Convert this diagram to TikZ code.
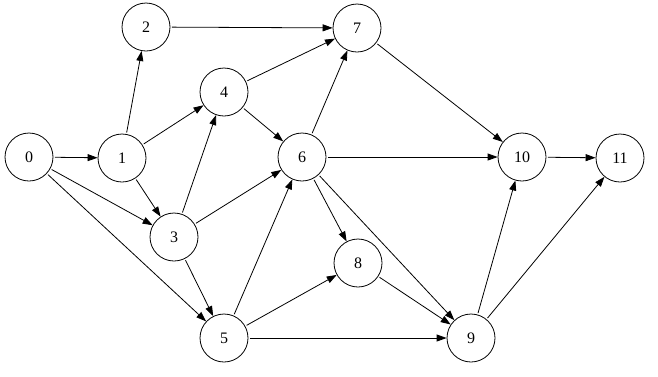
\documentclass[tikz,border=0pt]{standalone}
\usepackage{fontspec}
\setmainfont{Liberation Serif}
\usetikzlibrary{arrows.meta}
\begin{document}
\begin{tikzpicture}[x=1pt,y=-1pt,
  vtx/.style={circle,draw,line width=0.8pt,minimum size=48pt,inner sep=0pt,font=\fontsize{16}{18}\selectfont},
  arr/.style={line width=0.8pt,-{Triangle[length=10pt,width=7pt]},shorten <=1.5pt}]
\useasboundingbox (0,0) rectangle (658,376);
\node[vtx] (n0) at (29,157) {0};
\node[vtx] (n1) at (122,158) {1};
\node[vtx] (n2) at (146,27) {2};
\node[vtx] (n3) at (174,237) {3};
\node[vtx] (n4) at (224,92) {4};
\node[vtx] (n5) at (224,338) {5};
\node[vtx] (n6) at (302,157) {6};
\node[vtx] (n7) at (357,28) {7};
\node[vtx] (n8) at (358,263) {8};
\node[vtx] (n9) at (471,338) {9};
\node[vtx] (n10) at (522,157) {10};
\node[vtx] (n11) at (620,158) {11};
\draw[arr] (n0) -- (n1);
\draw[arr] (n0) -- (n3);
\draw[arr] (n0) -- (n5);
\draw[arr] (n1) -- (n2);
\draw[arr] (n1) -- (n4);
\draw[arr] (n1) -- (n3);
\draw[arr] (n2) -- (n7);
\draw[arr] (n3) -- (n4);
\draw[arr] (n3) -- (n6);
\draw[arr] (n3) -- (n5);
\draw[arr] (n4) -- (n7);
\draw[arr] (n4) -- (n6);
\draw[arr] (n5) -- (n6);
\draw[arr] (n5) -- (n8);
\draw[arr] (n5) -- (n9);
\draw[arr] (n6) -- (n7);
\draw[arr] (n6) -- (n10);
\draw[arr] (n6) -- (n8);
\draw[arr] (n6) -- (n9);
\draw[arr] (n7) -- (n10);
\draw[arr] (n8) -- (n9);
\draw[arr] (n9) -- (n10);
\draw[arr] (n9) -- (n11);
\draw[arr] (n10) -- (n11);
\end{tikzpicture}
\end{document}
